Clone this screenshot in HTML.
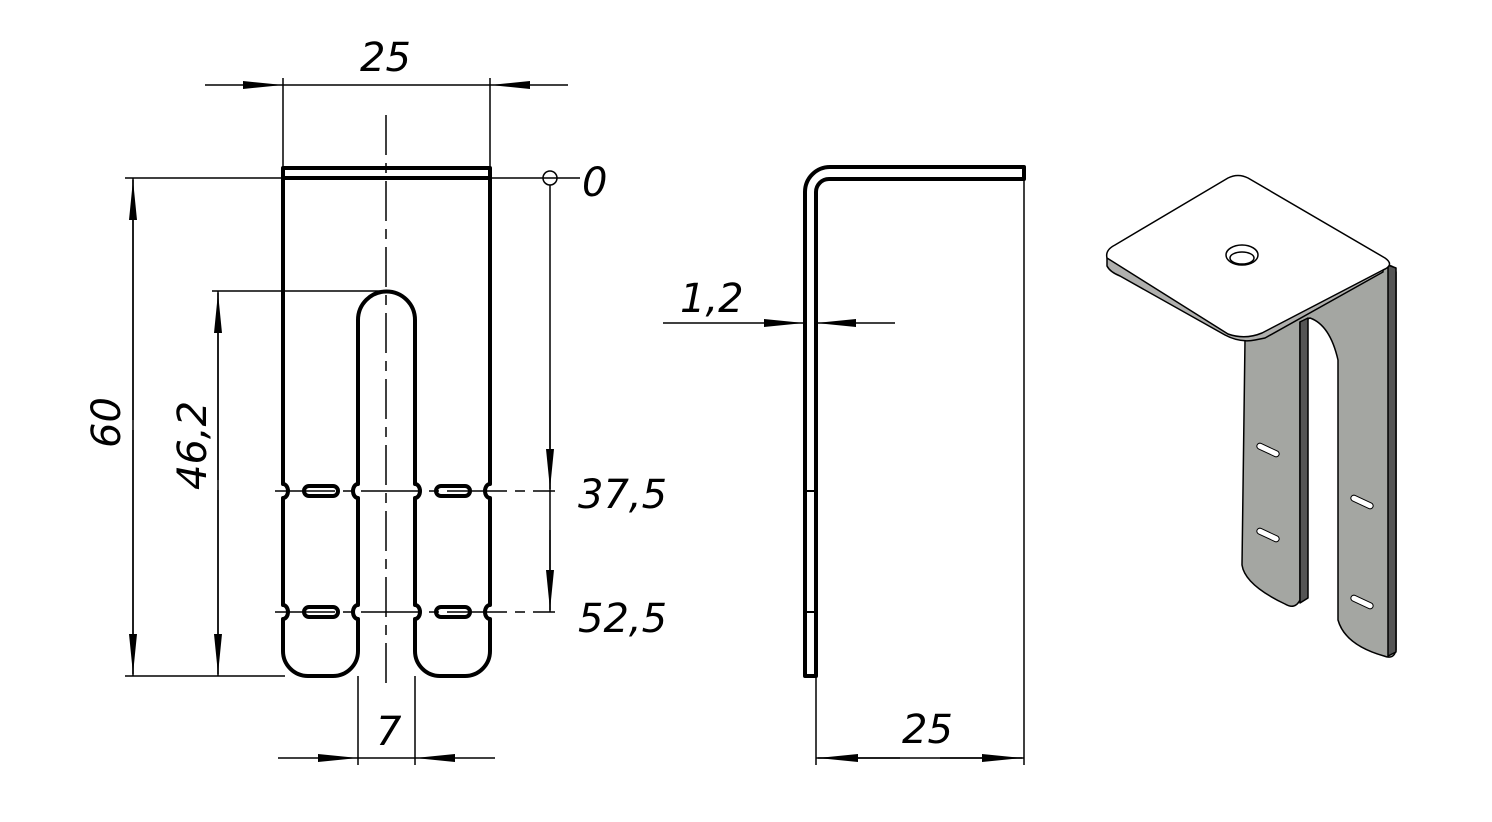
<!DOCTYPE html>
<html><head><meta charset="utf-8"><style>
html,body{margin:0;padding:0;background:#fff;}
svg{display:block}
text{font-family:"DejaVu Sans","Liberation Sans",sans-serif;font-style:italic;font-size:40px;fill:#000}
</style></head><body>
<svg width="1492" height="822" viewBox="0 0 1492 822" xmlns="http://www.w3.org/2000/svg">
<defs>
<marker id="a" viewBox="0 0 40 10" refX="40" refY="5" markerWidth="40" markerHeight="10" markerUnits="userSpaceOnUse" orient="auto"><path d="M0,1 L40,5 L0,9 Z" fill="#000"/></marker>
</defs>
<g stroke="#000" fill="none" stroke-width="1.5">
<!-- front view thin lines -->
<line x1="283" y1="78" x2="283" y2="168"/><line x1="490" y1="78" x2="490" y2="168"/>
<line x1="205" y1="85" x2="283" y2="85" marker-end="url(#a)"/>
<line x1="568" y1="85" x2="490" y2="85" marker-end="url(#a)"/>
<line x1="283" y1="85" x2="490" y2="85"/>
<line x1="125" y1="178" x2="580" y2="178"/>
<circle cx="550" cy="178" r="7"/>
<line x1="125" y1="676" x2="285" y2="676"/>
<line x1="133" y1="178" x2="133" y2="676"/>
<line x1="133" y1="420" x2="133" y2="180" marker-end="url(#a)"/>
<line x1="133" y1="430" x2="133" y2="674" marker-end="url(#a)"/>
<line x1="212" y1="291" x2="386" y2="291"/>
<line x1="218" y1="291" x2="218" y2="676"/>
<line x1="218" y1="480" x2="218" y2="293" marker-end="url(#a)"/>
<line x1="218" y1="490" x2="218" y2="674" marker-end="url(#a)"/>
<line x1="550" y1="185" x2="550" y2="612"/>
<line x1="550" y1="400" x2="550" y2="489" marker-end="url(#a)"/>
<line x1="550" y1="530" x2="550" y2="610" marker-end="url(#a)"/>
<line x1="386" y1="115" x2="386" y2="690" stroke-dasharray="40,8,10,8"/>
<line x1="275" y1="491" x2="555" y2="491" stroke-dasharray="60,8,10,8"/>
<line x1="275" y1="612" x2="555" y2="612" stroke-dasharray="60,8,10,8"/>
<line x1="358" y1="676" x2="358" y2="765"/><line x1="415" y1="676" x2="415" y2="765"/>
<line x1="278" y1="758" x2="358" y2="758" marker-end="url(#a)"/>
<line x1="495" y1="758" x2="415" y2="758" marker-end="url(#a)"/>
<line x1="358" y1="758" x2="415" y2="758"/>
<!-- side view thin -->
<line x1="663" y1="323" x2="804" y2="323" marker-end="url(#a)"/>
<line x1="895" y1="323" x2="816" y2="323" marker-end="url(#a)"/>
<line x1="1024" y1="180" x2="1024" y2="765"/>
<line x1="816" y1="676" x2="816" y2="765"/>
<line x1="816" y1="758" x2="1024" y2="758"/>
<line x1="900" y1="758" x2="818" y2="758" marker-end="url(#a)"/>
<line x1="940" y1="758" x2="1022" y2="758" marker-end="url(#a)"/>
</g>
<g stroke="#000" fill="none" stroke-width="4" stroke-linejoin="round">
<!-- front outline -->
<rect x="283" y="168" width="207" height="10"/>
<path d="M283,178 V484 a5,7 0 0 1 0,14 V605 a5,7 0 0 1 0,14 V651 a25,25 0 0 0 25,25 H333 a25,25 0 0 0 25,-25 V619 a5,7 0 0 1 0,-14 V498 a5,7 0 0 1 0,-14 V320 a28.5,28.5 0 0 1 57,0 V484 a5,7 0 0 1 0,14 V605 a5,7 0 0 1 0,14 V651 a25,25 0 0 0 25,25 H465 a25,25 0 0 0 25,-25 V619 a5,7 0 0 1 0,-14 V498 a5,7 0 0 1 0,-14 V178"/>
<rect x="304" y="486" width="34" height="10" rx="5"/>
<rect x="436" y="486" width="34" height="10" rx="5"/>
<rect x="304" y="607" width="34" height="10" rx="5"/>
<rect x="436" y="607" width="34" height="10" rx="5"/>
<!-- side view -->
<path d="M805,676 V192 a25,25 0 0 1 25,-25 H1024 V179 H829 a13,13 0 0 0 -13,13 V676 Z"/>
</g>
<g stroke="#000" stroke-width="2">
<line x1="805" y1="491" x2="816" y2="491"/><line x1="805" y1="612" x2="816" y2="612"/>
</g>
<!-- 3D view -->
<g stroke="#000" stroke-width="1.5" stroke-linejoin="round">
<path d="M1245,340 L1383,268 Q1393,262 1396,272 L1396,650 Q1394,660 1384,656 Q1345,645 1338,620 L1338,360 Q1330,325 1310,318 L1300,322 L1300,600 Q1295,610 1285,604 Q1245,585 1242,565 Z" fill="#a4a6a2"/>
<path d="M1300,322 L1308,318 L1308,598 L1300,603 Z" fill="#555"/>
<path d="M1388,265 L1396,268 L1396,652 L1388,656 Z" fill="#555"/>
<path d="M1107,258 L1107,266 Q1110,272 1120,276 L1225,335 Q1240,343 1255,340 L1265,338 L1383,272 L1383,265 Z" fill="#b0b0ae"/>
<path d="M1107,258 Q1105,250 1115,245 L1228,178 Q1238,173 1248,178 L1385,258 Q1395,265 1383,270 L1262,333 Q1245,340 1228,334 Z" fill="#fff"/>
<ellipse cx="1242" cy="255" rx="16" ry="10" fill="#fff"/>
<ellipse cx="1242" cy="258" rx="12" ry="6" fill="#fff"/>
</g>
<g stroke="#000" stroke-width="1" fill="#fff">
<rect x="1256" y="447" width="24" height="6" rx="3" transform="rotate(25 1268 450)"/>
<rect x="1256" y="532" width="24" height="6" rx="3" transform="rotate(25 1268 535)"/>
<rect x="1350" y="499" width="24" height="6" rx="3" transform="rotate(25 1362 502)"/>
<rect x="1350" y="599" width="24" height="6" rx="3" transform="rotate(25 1362 602)"/>
</g>
<!-- texts -->
<text x="360" y="71">25</text>
<text x="582" y="196">0</text>
<text x="578" y="508">37,5</text>
<text x="578" y="632">52,5</text>
<text x="376" y="745">7</text>
<text x="680" y="312">1,2</text>
<text x="902" y="743">25</text>
<text transform="translate(120,448) rotate(-90)">60</text>
<text transform="translate(206,490) rotate(-90)">46,2</text>
</svg>
</body></html>
